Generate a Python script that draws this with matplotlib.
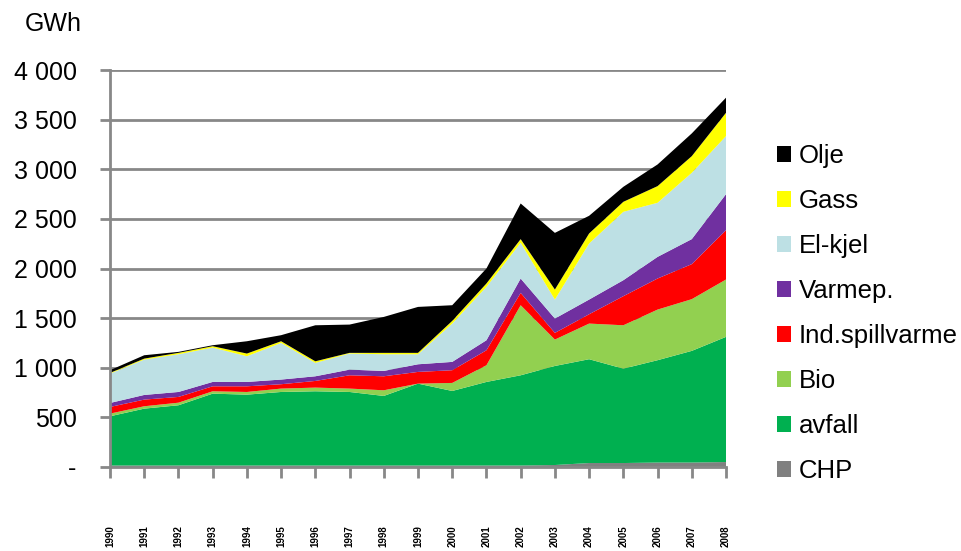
import matplotlib.pyplot as plt
import numpy as np

plt.rcParams['font.family'] = ['Liberation Sans', 'DejaVu Sans']

years = [str(y) for y in range(1990, 2009)]
labels = ['CHP', 'avfall', 'Bio', 'Ind.spillvarme', 'Varmep.', 'El-kjel', 'Gass', 'Olje']
colors = ['#808080', '#00B050', '#92D050', '#FF0000', '#7030A0', '#BDE0E4', '#FFFF00', '#000000']

chp = [15, 15, 15, 15, 15, 15, 15, 15, 15, 15, 15, 15, 15, 20, 40, 40, 45, 45, 50]
avfall = [496, 573, 607, 724, 714, 741, 748, 741, 701, 825, 751, 842, 909, 998, 1046, 951, 1031, 1125, 1261]
bio = [27, 24, 26, 24, 27, 34, 37, 34, 57, 0, 81, 168, 706, 266, 359, 437, 510, 521, 578]
spillvarme = [67, 67, 58, 50, 57, 44, 67, 134, 141, 118, 128, 151, 124, 67, 94, 293, 313, 353, 497]
varmep = [40, 47, 50, 44, 44, 47, 47, 57, 54, 77, 84, 101, 145, 145, 148, 161, 218, 252, 363]
elkjel = [296, 356, 380, 346, 259, 369, 135, 162, 168, 101, 386, 538, 360, 191, 565, 689, 545, 668, 585]
gass = [7, 10, 14, 14, 27, 17, 16, 7, 14, 14, 27, 34, 37, 101, 101, 101, 168, 168, 235]
olje = [27, 34, 10, 10, 124, 61, 363, 285, 362, 463, 158, 151, 359, 571, 178, 151, 218, 229, 152]

series = [chp, avfall, bio, spillvarme, varmep, elkjel, gass, olje]

fig = plt.figure(figsize=(9.61, 5.51), dpi=100)
ax = fig.add_axes([110/961, 1 - 467/551, 616/961, 397/551])

x = np.arange(len(years))
polys = ax.stackplot(x, *series, colors=colors, labels=labels, linewidth=0)

ax.set_xlim(0, len(years) - 1)
ax.set_ylim(0, 4000)
ax.set_yticks(np.arange(0, 4001, 500))
ax.set_yticklabels(['-'] + ['{:,}'.format(v).replace(',', ' ') for v in range(500, 4001, 500)],
                   fontsize=18)
ax.yaxis.grid(True, color='#888888', linewidth=2)
ax.set_axisbelow(True)
ax.set_xticks(x)
ax.set_xticklabels(years, rotation=90, fontsize=7, fontweight='bold')
ax.tick_params(axis='x', length=8, width=2, color='#888888', pad=34)
ax.tick_params(axis='y', length=7, width=2, color='#888888', pad=17)
for s in ['top', 'right']:
    ax.spines[s].set_visible(False)
ax.spines['left'].set_color('#888888')
ax.spines['left'].set_linewidth(2)
ax.spines['bottom'].set_color('#888888')
ax.spines['bottom'].set_linewidth(2)
ax.spines['bottom'].set_zorder(5)

fig.text(25/961, 1 - 24/551, 'GWh', fontsize=18, va='center')

h, l = ax.get_legend_handles_labels()
fig.legend(h[::-1], l[::-1], loc='upper left', bbox_to_anchor=(764/961, 1 - 131/551),
           frameon=False, fontsize=18.5, handlelength=0.56, handleheight=0.56,
           labelspacing=0.82, handletextpad=0.3, borderpad=0)

fig.savefig('out.png', dpi=100)
